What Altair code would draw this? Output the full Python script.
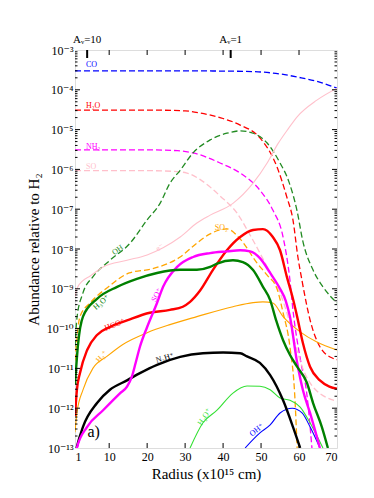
import altair as alt
import pandas as pd

FONT = "Liberation Serif, DejaVu Serif, serif"
W, H = 262, 398

# ---------------- data ----------------
co_x = [1, 10, 20, 30, 40, 46, 50, 55, 60, 65, 70]
co_y = [3.0e-4, 3.0e-4, 3.0e-4, 3.0e-4, 2.95e-4, 2.9e-4, 2.8e-4, 2.5e-4, 2.05e-4, 1.6e-4, 1.1e-4]

h2o_x = [1, 20, 30, 34, 40, 44.5, 49.7, 54.2, 56.8, 58.4, 59.7, 60.8, 62.9, 65.5, 68.9, 70]
h2o_y = [3.1e-5, 3.1e-5, 2.95e-5, 2.6e-5, 1.9e-5, 1.3e-5, 6.2e-6, 1.15e-6, 2.0e-7, 5.4e-8,
         6.3e-9, 1.58e-9, 1.66e-10, 3.5e-11, 1.8e-11, 1.66e-11]

nh3_x = [1, 20, 28, 32.1, 39.2, 44.5, 49.7, 53.1, 55.8, 57.6, 58.4, 60.5, 62, 63.4]
nh3_y = [3.1e-6, 3.1e-6, 2.95e-6, 2.6e-6, 1.45e-6, 8.1e-7, 3.0e-7, 9.5e-8, 2.0e-8, 1.66e-9,
         2.95e-10, 1.4e-11, 2.5e-12, 1.0e-13]

so_x = [1, 20, 27, 30.5, 33.9, 39.2, 43.7, 47.1, 51.6, 55, 57.1, 59, 61, 63.7, 70]
so_y = [9.3e-7, 9.3e-7, 8.9e-7, 8.1e-7, 5.6e-7, 2.15e-7, 7.9e-8, 2.25e-8, 3.55e-9, 7.9e-10,
        2.0e-10, 4.0e-11, 1.0e-11, 3.4e-12, 1.5e-12]

oh_x = [1, 1.5, 3.1, 5.7, 10.2, 15.5, 20, 23.4, 26, 28.7, 32.1, 36.6, 41, 44.5, 47.9, 51.6,
        55, 57.3, 59.5, 61, 63.7, 66.3, 70]
oh_y = [3.5e-11, 1.8e-10, 7.9e-10, 2.0e-9, 5.2e-9, 1.4e-8, 5.4e-8, 1.4e-7, 4.5e-7, 9.5e-7,
        2.6e-6, 5.5e-6, 8.1e-6, 9.3e-6, 8.1e-6, 4.6e-6, 1.45e-6, 5.0e-7, 8.9e-8, 1.58e-8,
        2.95e-9, 1.12e-9, 4.4e-10]

so2_x = [1, 2.3, 4.95, 9.4, 15.3, 21.5, 28.7, 33.1, 36.6, 41, 44.5, 48.9, 51.6, 54.2, 55.8,
         57.6, 58.9, 59.5]
so2_y = [1.58e-11, 2.0e-10, 4.4e-10, 1.05e-9, 2.5e-9, 3.2e-9, 6.3e-9, 1.4e-8, 2.4e-8, 3.2e-8,
         1.78e-8, 4.5e-9, 2.2e-9, 1.0e-9, 2.5e-10, 3.5e-11, 1.9e-12, 1.0e-13]

em_x = [1, 1.5, 3, 5, 8.4, 14.7, 20, 24.2, 28.7, 33.1, 36.6, 42.6, 47.9, 51.6, 54.5, 57,
        59.5, 64.7, 70]
em_y = [6.3e-10, 1.0e-9, 1.58e-9, 2.1e-9, 3.55e-9, 5.2e-9, 7.1e-9, 1.07e-8, 2.0e-8, 4.5e-8,
        7.1e-8, 1.4e-7, 4.5e-7, 1.45e-6, 4.5e-6, 1.0e-5, 2.1e-5, 5.5e-5, 1.1e-4]

h3op_x = [1, 1.8, 3.1, 6.8, 12.1, 17.3, 22.6, 28.7, 33.1, 36.6, 38.4, 42.6, 45.2, 47.9, 50.5,
          52.4, 54, 55.8, 57.6, 59.5, 62.1, 63.7, 66, 67.6]
h3op_y = [4.0e-12, 4.0e-11, 2.0e-10, 5.6e-10, 1.12e-9, 1.78e-9, 2.5e-9, 3.0e-9, 3.0e-9, 3.55e-9,
          4.3e-9, 5.2e-9, 4.7e-9, 2.95e-9, 1.12e-9, 5.2e-10, 1.58e-10, 5.1e-11, 2.2e-11,
          1.1e-11, 4.3e-12, 1.35e-12, 3.4e-13, 1.0e-13]

hcop_x = [1, 1.5, 2.3, 4.2, 6.8, 10.2, 14.7, 20.7, 26, 29.4, 31.3, 33.9, 37.3, 41, 44.5, 47.9,
          50.5, 53.1, 55, 56.8, 58.4, 59.5, 61, 62.9, 65.5, 68, 70]
hcop_y = [6.3e-13, 2.9e-12, 7.6e-12, 2.9e-11, 6.9e-11, 1.1e-10, 1.6e-10, 2.5e-10, 2.95e-10,
          3.55e-10, 4.7e-10, 8.9e-10, 2.95e-9, 9.3e-9, 2.0e-8, 3.0e-8, 3.16e-8, 2.0e-8, 9.3e-9,
          2.0e-9, 5.6e-10, 2.0e-10, 4.4e-11, 1.1e-11, 5.0e-12, 3.5e-12, 3.1e-12]

sop_x = [1, 1.5, 4.2, 8.4, 12.9, 14.7, 16, 17, 18.1, 20, 22.6, 24.2, 27.9, 32.1, 36.6, 41,
         44.5, 47.1, 49.7, 52.4, 55, 56.5, 57.6, 59.5, 61, 62.9, 65.5]
sop_y = [5.0e-14, 1.0e-13, 3.4e-13, 8.9e-13, 2.4e-12, 3.5e-12, 6.3e-12, 1.41e-11, 3.5e-11,
         1.1e-10, 4.4e-10, 1.12e-9, 3.55e-9, 6.3e-9, 7.9e-9, 8.7e-9, 9.3e-9, 8.7e-9, 5.9e-9,
         2.5e-9, 1.0e-9, 5.0e-10, 2.0e-10, 1.4e-11, 2.9e-12, 7.6e-13, 1.0e-13]

h3p_x = [1, 1.5, 3.1, 5.7, 9.4, 13.6, 20, 26, 33.1, 42.6, 47.9, 50.5, 53.1, 55.8, 60.3, 64.7, 70]
h3p_y = [2.5e-13, 7.6e-13, 2.9e-12, 1.0e-11, 2.0e-11, 4.0e-11, 7.9e-11, 1.26e-10, 2.0e-10,
         3.55e-10, 4.5e-10, 4.7e-10, 4.4e-10, 2.0e-10, 8.3e-11, 4.6e-11, 2.9e-11]

n2hp_x = [1, 1.5, 3.1, 6.8, 10.2, 14.7, 18.1, 22.6, 28.7, 34.7, 40, 44.5, 46.3, 49.7, 52.4,
          55.8, 58.4, 60.3]
n2hp_y = [6.3e-14, 1.07e-13, 3.4e-13, 1.35e-12, 2.9e-12, 5.0e-12, 7.6e-12, 1.23e-11, 1.95e-11,
          2.4e-11, 2.5e-11, 2.4e-11, 2.0e-11, 1.38e-11, 6.8e-12, 1.58e-12, 3.4e-13, 1.0e-13]

h2op_x = [31.3, 34.7, 38.4, 42.6, 46.3, 49.7, 52.4, 55, 57.6, 60.3, 62.9, 65, 66.3]
h2op_y = [1.0e-13, 4.3e-13, 8.9e-13, 2.4e-12, 3.6e-12, 3.55e-12, 2.9e-12, 1.8e-12, 1.58e-12,
          1.07e-12, 4.3e-13, 1.78e-13, 1.0e-13]

ohp_x = [45.8, 49.7, 52.4, 55, 58.2, 60.8, 62.9, 65.5]
ohp_y = [1.0e-13, 2.4e-13, 3.8e-13, 7.6e-13, 1.0e-12, 7.6e-13, 3.4e-13, 1.0e-13]

# name, x, y, color, dashed, width
series = [
    ("CO", co_x, co_y, "#0000ff", True, 1.3),
    ("H2O", h2o_x, h2o_y, "#ff0000", True, 1.3),
    ("NH3", nh3_x, nh3_y, "#ff00ff", True, 1.3),
    ("SO", so_x, so_y, "#ffc0cb", True, 1.3),
    ("OH", oh_x, oh_y, "#228b22", True, 1.3),
    ("SO2", so2_x, so2_y, "#ffa500", True, 1.3),
    ("e-", em_x, em_y, "#ffc0cb", False, 1.1),
    ("H3+", h3p_x, h3p_y, "#ffa500", False, 1.1),
    ("H2O+", h2op_x, h2op_y, "#33e033", False, 1.1),
    ("OH+", ohp_x, ohp_y, "#0000ff", False, 1.1),
    ("N2H+", n2hp_x, n2hp_y, "#000000", False, 2.4),
    ("HCO+", hcop_x, hcop_y, "#ff0000", False, 2.4),
    ("SO+", sop_x, sop_y, "#ff00ff", False, 2.4),
    ("H3O+", h3op_x, h3op_y, "#008000", False, 2.4),
]

# line labels
left_text = ["CO", "H₂O", "NH₃", "SO"]
left_x = [3.9, 3.9, 3.9, 3.9]
left_y = [4.2e-4, 3.9e-5, 3.6e-6, 1.15e-6]
left_color = ["#0000ff", "#ff0000", "#ff00ff", "#ffc0cb"]

lab_text = ["OH", "e⁻", "SO₂", "H₃O⁺", "SO⁺", "HCO⁺", "H₃⁺", "N₂H⁺", "H₂O⁺", "OH⁺"]
lab_x = [12.3, 23.4, 39.5, 8.0, 22.6, 11.5, 8.1, 24.7, 35.2, 48.9]
lab_y = [9.3e-9, 1.07e-8, 3.4e-8, 4.5e-10, 6.9e-10, 1.23e-10, 1.95e-11, 1.8e-11, 6.0e-13, 2.8e-13]
lab_angle = [325, 330, 0, 318, 298, 338, 312, 343, 303, 322]
lab_color = ["#228b22", "#ffc0cb", "#ffa500", "#008000", "#ff00ff", "#ff0000", "#ffa500",
             "#000000", "#33e033", "#0000ff"]

# top annotation (visual extinction)
av_x = [4.2, 42]
av_text = ["Aᵥ=10", "Aᵥ=1"]

x_ticks = [1, 10, 20, 30, 40, 50, 60, 70]
y_exps = list(range(-13, -2))

# ---------------- chart ----------------
sup = {"0": "⁰", "1": "¹", "2": "²", "3": "³", "4": "⁴", "5": "⁵", "6": "⁶",
       "7": "⁷", "8": "⁸", "9": "⁹", "-": "⁻"}
y_vals = [10.0 ** e for e in y_exps]
expr = "''"
for e in y_exps:
    lab = "10" + "".join(sup[c] for c in str(e))
    expr = f"round(log(datum.value)/LN10) == {e} ? '{lab}' : ({expr})"

xs = alt.Scale(domain=[1, 70], nice=False, zero=False)
ys = alt.Scale(type="log", domain=[1e-13, 1e-3], nice=False)

x_axis = alt.Axis(values=x_ticks, ticks=False, domain=False, grid=False, labelFont=FONT,
                  labelFontSize=12, labelColor="black", labelPadding=3,
                  title="Radius (x10¹⁵ cm)", titleFont=FONT, titleFontSize=15,
                  titleFontWeight="normal", titleColor="black", titleX=131, titleY=25,
                  titleBaseline="middle", titleAlign="center")
y_axis = alt.Axis(values=y_vals, labelExpr=expr, ticks=False, domain=False, grid=False,
                  labelFont=FONT, labelFontSize=12, labelColor="black", labelPadding=2,
                  title="Abundance relative to H₂", titleFont=FONT, titleFontSize=15,
                  titleFontWeight="normal", titleColor="black", titleX=-42, titleY=199,
                  titleAngle=270, titleBaseline="middle", titleAlign="center")


def X():
    return alt.X("x:Q", scale=xs, axis=x_axis)


def Y():
    return alt.Y("y:Q", scale=ys, axis=y_axis)


layers = []
for name, sx, sy, col, dashed, w in series:
    df = pd.DataFrame({"x": sx, "y": sy})
    kw = dict(color=col, strokeWidth=w, clip=True, interpolate="monotone")
    if dashed:
        kw["strokeDash"] = [6, 3]
    layers.append(alt.Chart(df).mark_line(**kw).encode(x=X(), y=Y()))

# inward ticks
ymaj = pd.DataFrame({"y": [10.0 ** e for e in range(-12, -3)]})
ymin = pd.DataFrame({"y": [m * 10.0 ** e for e in range(-13, -3) for m in range(2, 10)]})
xmaj = pd.DataFrame({"x": x_ticks[1:-1]})
for dfv, L in [(ymaj, 5), (ymin, 2.5)]:
    layers.append(alt.Chart(dfv).mark_rule(color="black", strokeWidth=1)
                  .encode(y=Y(), x=alt.value(0), x2=alt.value(L)))
    layers.append(alt.Chart(dfv).mark_rule(color="black", strokeWidth=1)
                  .encode(y=Y(), x=alt.value(W - L), x2=alt.value(W)))
layers.append(alt.Chart(xmaj).mark_rule(color="black", strokeWidth=1)
              .encode(x=X(), y=alt.value(H - 5), y2=alt.value(H)))
layers.append(alt.Chart(xmaj).mark_rule(color="black", strokeWidth=1)
              .encode(x=X(), y=alt.value(0), y2=alt.value(5)))

av_df = pd.DataFrame({"x": av_x, "t": av_text})
layers.append(alt.Chart(av_df).mark_rule(color="black", strokeWidth=2)
              .encode(x=X(), y=alt.value(0), y2=alt.value(8)))
layers.append(alt.Chart(av_df).mark_text(font=FONT, fontSize=11, color="black",
                                         baseline="middle", align="center")
              .encode(x=X(), y=alt.value(-10), text="t:N"))

left_df = pd.DataFrame({"x": left_x, "y": left_y, "t": left_text, "c": left_color})
layers.append(alt.Chart(left_df).mark_text(font=FONT, fontSize=8, align="left",
                                           baseline="middle")
              .encode(x=X(), y=Y(), text="t:N", color=alt.Color("c:N", scale=None)))

lab_df = pd.DataFrame({"x": lab_x, "y": lab_y, "t": lab_text, "a": lab_angle, "c": lab_color})
layers.append(alt.Chart(lab_df).mark_text(font=FONT, fontSize=8, align="center",
                                          baseline="middle")
              .encode(x=X(), y=Y(), text="t:N", color=alt.Color("c:N", scale=None),
                      angle=alt.Angle("a:Q", scale=None)))

a_df = pd.DataFrame({"x": [5.9], "y": [2.5e-13], "t": ["a)"]})
layers.append(alt.Chart(a_df).mark_text(font=FONT, fontSize=16, color="black",
                                        align="center", baseline="middle")
              .encode(x=X(), y=Y(), text="t:N"))

chart = alt.layer(*layers).properties(
    width=W, height=H,
    padding={"left": 67, "top": 42, "right": 20, "bottom": 38},
    autosize=alt.AutoSizeParams(type="none"),
).configure_view(stroke="black", strokeWidth=1).configure(background="white")

chart.save("out.html", embed_options={"renderer": "svg", "actions": False})
